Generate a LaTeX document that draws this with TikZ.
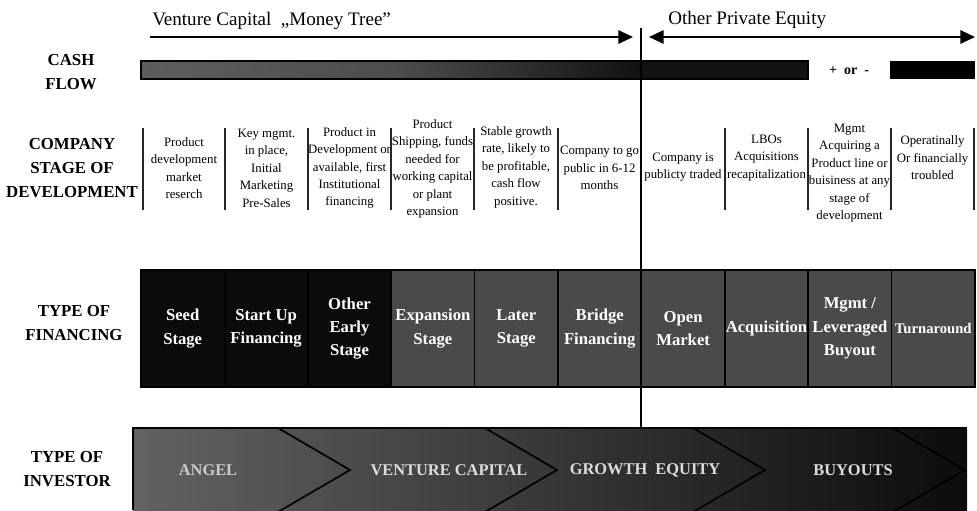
\documentclass[tikz,border=0pt]{standalone}
\usepackage{fontspec}
\setmainfont{Liberation Serif}
\usetikzlibrary{arrows.meta}

\definecolor{cellblack}{HTML}{0B0B0B}
\definecolor{cellgray}{HTML}{4A4A4A}
\definecolor{barlight}{HTML}{5E5E5E}
\definecolor{invlight}{HTML}{626262}
\definecolor{invdark}{HTML}{0C0C0C}
\definecolor{invgray}{HTML}{DCDCDC}

\begin{document}
\begin{tikzpicture}[
                            x=0.75pt, y=-0.75pt,
                            node distance=62.55pt,
                            >={Triangle[length=11pt,width=10pt]},
                            rowlabel/.style={font=\fontsize{12.6}{18}\selectfont\bfseries, align=center},
                            stagetext/.style={font=\fontsize{9.6}{13.1}\selectfont, align=center, inner sep=0pt},
                            finbox/.style={rectangle, draw=black, line width=1.1pt, fill=cellgray, text=white,
                                           minimum width=62.55pt, minimum height=87.75pt, inner sep=0pt,
                                           align=center, font=\fontsize{12.5}{17.5}\selectfont\bfseries},
                            invlabel/.style={text=invgray, font=\fontsize{12.3}{15}\selectfont\bfseries}
                        ]
                        \useasboundingbox (0,0) rectangle (977,510);

                        % Header arrows
                        \coordinate (vcL) at (150,37);
                        \coordinate (vcR) at (633,37);
                        \coordinate (peL) at (649,37);
                        \coordinate (peR) at (975,37);
                        \node [anchor=west, inner sep=0pt, font=\fontsize{14.3}{17}\selectfont] (vchead) at (152,21) {Venture Capital\ \ „Money Tree”};
                        \node [anchor=west, inner sep=0pt, font=\fontsize{14.3}{17}\selectfont] (pehead) at (668,20) {Other Private Equity};
                        \draw [->, line width=1.5pt] (vcL) -- (vcR);
                        \draw [<->, line width=1.5pt] (peL) -- (peR);

                        % Row labels
                        \node [rowlabel] (cashlbl) at (71,72) {CASH\\FLOW};
                        \node [rowlabel] (stagelbl) at (72,168) {COMPANY\\STAGE OF\\DEVELOPMENT};
                        \node [rowlabel] (finlbl) at (74,323) {TYPE OF\\FINANCING};
                        \node [rowlabel] (invlbl) at (67,469) {TYPE OF\\INVESTOR};

                        % Cash flow bar
                        \shade [left color=barlight, right color=black!93, middle color=barlight!82!black] (141,61) rectangle (640,79);
                        \fill [black!93] (640,61) rectangle (808,79);
                        \draw [line width=1pt] (141,61) rectangle (808,79);
                        \fill [black] (890,61) rectangle (975,79);
                        \node [font=\fontsize{10.5}{12}\selectfont\bfseries] (sign) at (849,71) {+\ \ or\ \ -};

                        % Stages of development
                        \foreach \x in {143,225,308,391,474,558,725,808,891,974}
                            \draw [line width=1.4pt, black!85] (\x,128) -- (\x,210);
                        \node [stagetext] (seeddesc) at (184,168) {Product\\development\\market\\reserch};
                        \node [stagetext] (startdesc) at (266.5,168) {Key mgmt.\\in place,\\Initial\\Marketing\\Pre-Sales};
                        \node [stagetext] (earlydesc) at (349.5,168) {Product in\\Development or\\available, first\\Institutional\\financing};
                        \node [stagetext] (expdesc) at (432.5,169) {Product\\Shipping, funds\\needed for\\working capital\\or plant\\expansion};
                        \node [stagetext] (laterdesc) at (516,167) {Stable growth\\rate, likely to\\be profitable,\\cash flow\\positive.};
                        \node [stagetext] (bridgedesc) at (599.5,168) {Company to go\\public in 6-12\\months};
                        \node [stagetext] (opendesc) at (683,167) {Company is\\publicty traded};
                        \node [stagetext] (acqdesc) at (766.5,158) {LBOs\\Acquisitions\\recapitalization};
                        \node [stagetext] (mbodesc) at (849.5,173) {Mgmt\\Acquiring a\\Product line or\\buisiness at any\\stage of\\development};
                        \node [stagetext] (turndesc) at (932.5,158) {Operatinally\\Or financially\\troubled};

                        % Types of financing
                        \node [finbox, fill=cellblack] (seed) at (182.7,328.5) {Seed\\Stage};
                        \node [finbox, fill=cellblack, right of=seed] (startup) {Start Up\\Financing};
                        \node [finbox, fill=cellblack, right of=startup] (early) {Other\\Early\\Stage};
                        \node [finbox, right of=early] (expansion) {Expansion\\Stage};
                        \node [finbox, right of=expansion] (later) {Later\\Stage};
                        \node [finbox, right of=later] (bridge) {Bridge\\Financing};
                        \node [finbox, right of=bridge] (open) {Open\\Market};
                        \node [finbox, right of=open] (acq) {Acquisition};
                        \node [finbox, right of=acq] (mbo) {Mgmt /\\Leveraged\\Buyout};
                        \node [finbox, right of=mbo, font=\fontsize{11}{15}\selectfont\bfseries] (turn) {Turnaround};

                        % Types of investor
                        \shade [left color=invlight, right color=invdark] (133,428) rectangle (967,510);
                        \draw [line width=1.3pt] (133,510) -- (133,428) -- (967,428);
                        \foreach \x in {278,485,693,893}
                            \draw [line width=1.3pt] (\x,428) -- (\x+72,470) -- (\x,512);
                        \node [invlabel, text=invgray!92!black] (angel) at (208,470) {ANGEL};
                        \node [invlabel] (vcap) at (449,470) {VENTURE CAPITAL};
                        \node [invlabel] (growth) at (645,470) {GROWTH\ \ EQUITY};
                        \node [invlabel] (buyouts) at (853,470) {BUYOUTS};

                        % Divider
                        \coordinate (divtop) at (641,28);
                        \coordinate (divbot) at (641,428);
                        \draw [line width=2.2pt] (divtop) -- (divbot);
                    \end{tikzpicture}
\end{document}
